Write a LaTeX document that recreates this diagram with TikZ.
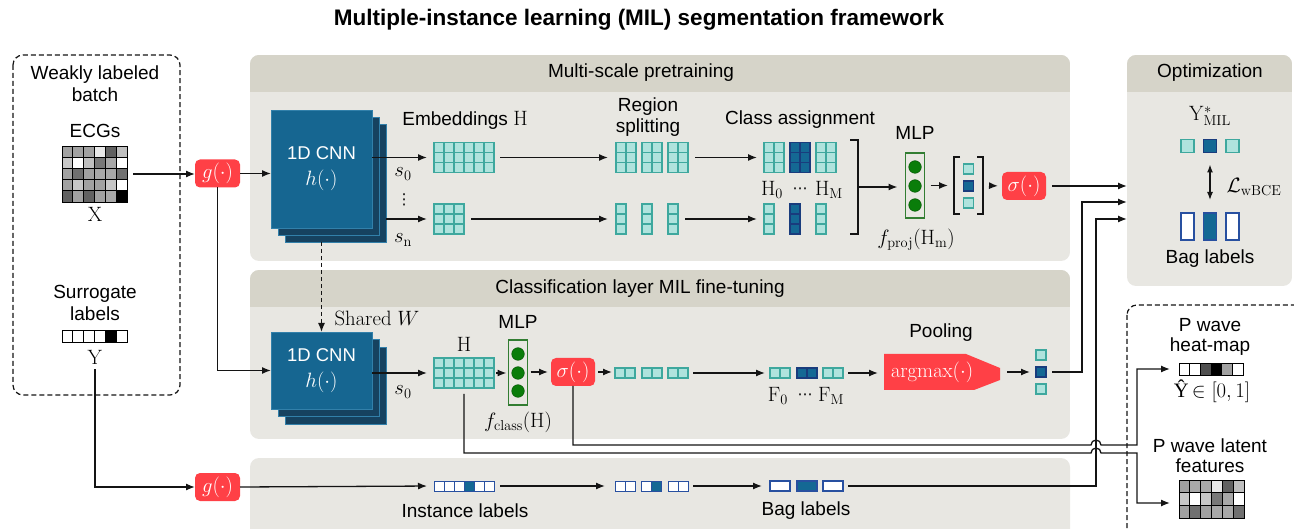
\documentclass[tikz,border=0pt]{standalone}
\usepackage[no-math]{fontspec}
\setmainfont{Liberation Sans}
\newfontfamily\dejavu{DejaVu Sans}
\newfontfamily\serifL{Liberation Serif}
\usetikzlibrary{arrows.meta}
\definecolor{pbody}{RGB}{232,231,226}
\definecolor{phead}{RGB}{214,212,201}
\definecolor{redb}{RGB}{255,64,70}
\definecolor{tealL}{RGB}{175,227,221}
\definecolor{tealD}{RGB}{62,168,158}
\definecolor{dkb}{RGB}{20,104,148}
\definecolor{dkbB}{RGB}{25,60,125}
\definecolor{blueB}{RGB}{40,80,160}
\definecolor{cnnF}{RGB}{22,102,145}
\definecolor{cnnB}{RGB}{22,66,96}
\definecolor{cnnE}{RGB}{50,128,170}
\definecolor{grn}{RGB}{10,125,10}
\definecolor{grnB}{RGB}{50,125,50}
\definecolor{lnc}{RGB}{20,20,20}
\newcommand\M[1]{{\fontsize{20.74}{24}\selectfont$#1$}}
% teal/dark grid: name, cx, cy, cols, rows, w, h, fill, draw
\newcommand\mkgrid[9]{%
  \node[gridnode,minimum width=#6pt,minimum height=#7pt] (#1) at (#2,#3) {};
  \filldraw[fill=#8,draw=#9,line width=1.1pt] ({#2-#6/2},{#3-#7/2}) rectangle ({#2+#6/2},{#3+#7/2});
  \foreach \ii in {1,...,#4}{\ifnum\ii<#4\relax\draw[draw=#9,line width=1.1pt] ({#2-#6/2+\ii*#6/#4},{#3-#7/2}) -- ++(0,#7);\fi}
  \foreach \jj in {1,...,#5}{\ifnum\jj<#5\relax\draw[draw=#9,line width=1.1pt] ({#2-#6/2},{#3-#7/2+\jj*#7/#5}) -- ++(#6,0);\fi}
}
% coloured cells: left, top, cw, ch, draw, rows
\newcommand\mkcells[6]{%
  \foreach \rr [count=\jj from 0] in {#6}{%
    \foreach \vv [count=\ii from 0] in \rr {%
      \filldraw[fill=\vv,draw=#5,line width=0.9pt] ({#1+\ii*#3},{#2+\jj*#4}) rectangle ++(#3,#4);
    }}}
\begin{document}
\begin{tikzpicture}[x=1pt,y=-1pt,
  font=\fontsize{19}{22}\selectfont,
  arr/.style={draw=lnc,line width=1.3pt,-{Latex[length=9pt,width=7pt]}},
  ln/.style={draw=lnc,line width=1.3pt},
  gridnode/.style={inner sep=0pt,outer sep=0pt,draw=none},
  redbox/.style={fill=redb,rounded corners=5pt,text=white,inner sep=0pt,outer sep=0pt},
  lbl/.style={inner sep=0pt,align=center},
  cnnf/.style={fill=cnnF,draw=cnnE,line width=0.8pt,inner sep=0pt,outer sep=0pt,minimum width=101pt,text=white,align=center,font=\fontsize{18.5}{26}\selectfont},
  cnnb/.style={fill=cnnB,draw=cnnE,line width=0.8pt,inner sep=0pt,outer sep=0pt,minimum width=101pt},
  mlpbox/.style={draw=grnB,line width=1.3pt,inner sep=0pt,outer sep=0pt,minimum width=19pt,minimum height=65pt},
  dot/.style={fill=grn,draw=grn!70!black,line width=0.5pt},
  dashbox/.style={draw=lnc,line width=1.2pt,dash pattern=on 5pt off 3pt,rounded corners=10pt},
  tcell/.style={fill=tealL,draw=tealD,line width=1.1pt},
  dcell/.style={fill=dkb,draw=dkbB,line width=1.1pt},
  wcell/.style={fill=white,draw=blueB,line width=1.3pt},
  bcell/.style={fill=dkb,draw=blueB,line width=1.3pt},
  dts/.style={inner sep=0pt,font=\dejavu\fontsize{15}{16}\selectfont}
]
\useasboundingbox (0,0) rectangle (1294,529);
\node[font=\fontsize{22.5}{26}\selectfont\bfseries] (title) at (639,20) {Multiple-instance learning (MIL) segmentation framework};

% ---------- panels ----------
\begin{scope}
  \clip[rounded corners=9pt] (250,55) rectangle (1070,261);
  \fill[pbody] (250,55) rectangle (1070,261);
  \fill[phead] (250,55) rectangle (1070,92);
\end{scope}
\begin{scope}
  \clip[rounded corners=9pt] (250,270) rectangle (1070,439);
  \fill[pbody] (250,270) rectangle (1070,439);
  \fill[phead] (250,270) rectangle (1070,307);
\end{scope}
\fill[pbody,rounded corners=9pt] (250,458) rectangle (1070,560);
\begin{scope}
  \clip[rounded corners=9pt] (1127,55) rectangle (1292,286);
  \fill[pbody] (1127,55) rectangle (1292,286);
  \fill[phead] (1127,55) rectangle (1292,92);
\end{scope}
\draw[dashbox] (13,55) rectangle (180,395);
\draw[dashbox] (1127,305) rectangle (1330,570);

\node[lbl] (hdr1) at (641,73) {Multi-scale pretraining};
\node[lbl] (hdr2) at (640,289) {Classification layer MIL fine-tuning};
\node[lbl] (hdr3) at (1210,73) {Optimization};

% ---------- left box ----------
\node[lbl] (wlb) at (95,84) {Weakly labeled\\batch};
\node[lbl] (ecgt) at (95,131) {ECGs};
\node[gridnode,minimum width=65pt,minimum height=56pt] (ecg) at (94.5,174) {};
\mkcells{62}{146}{10.83}{11.2}{black}{{black!37,black!37,black!37,black!9,black!62,black!25},{black!22,white,black!25,black!53,black!34,white},{black!37,black!56,black!37,black!34,black!34,black!56},{black!37,black!22,black!37,black!37,black!22,white},{black!62,black!37,black!62,black!37,black!34,black}}
\node[lbl] (xl) at (95,214) {\M{\mathrm{X}}};
\node[lbl] (sgl) at (95,303) {Surrogate\\labels};
\node[gridnode,minimum width=65pt,minimum height=12pt] (yl) at (94.5,336) {};
\mkcells{62}{330}{10.83}{12}{black}{{white,white,white,white,black,white}}
\node[lbl] (ylab) at (95,357) {\M{\mathrm{Y}}};

% ---------- g boxes ----------
\node[redbox,minimum width=45pt,minimum height=28pt] (g1) at (217.5,173.5) {\M{g(\cdot)}};
\node[redbox,minimum width=45pt,minimum height=28pt] (g2) at (217.5,487) {\M{g(\cdot)}};

% ---------- top CNN ----------
\node[cnnb,minimum height=118pt] (cnn1c) at (335.5,183) {};
\node[cnnb,minimum height=118pt] (cnn1b) at (328.5,176) {};
\node[cnnf,minimum height=118pt] (cnn1) at (321.5,169) {1D CNN\\\M{h(\cdot)}};
% ---------- bottom CNN ----------
\node[cnnb,minimum height=77pt] (cnn2c) at (335.5,385.5) {};
\node[cnnb,minimum height=77pt] (cnn2b) at (328.5,378) {};
\node[cnnf,minimum height=77pt] (cnn2) at (321.5,370.5) {1D CNN\\\M{h(\cdot)}};

% ---------- top row ----------
\node[lbl] (embl) at (465,120) {Embeddings \M{\mathrm{H}}};
\mkgrid{embT}{464}{157.5}{6}{3}{60}{30}{tealL}{tealD}
\mkgrid{embB}{449}{219}{3}{3}{30}{30}{tealL}{tealD}
\node[lbl] (s0a) at (403,174) {\M{s_0}};
\node[dts] (vdt) at (404,200) {⋮};
\node[lbl] (sna) at (403,240) {\M{s_{\mathrm{n}}}};

\node[lbl,font=\fontsize{19}{21}\selectfont] (rsl) at (648,117) {Region\\splitting};
\node[gridnode,minimum width=72pt,minimum height=30pt] (rsT) at (652,157.5) {};
\mkgrid{rsT1}{626}{157.5}{2}{3}{20}{30}{tealL}{tealD}
\mkgrid{rsT2}{652}{157.5}{2}{3}{20}{30}{tealL}{tealD}
\mkgrid{rsT3}{678}{157.5}{2}{3}{20}{30}{tealL}{tealD}
\node[gridnode,minimum width=62pt,minimum height=30pt] (rsB) at (647,219) {};
\mkgrid{rsB1}{621}{219}{1}{3}{10}{30}{tealL}{tealD}
\mkgrid{rsB2}{647}{219}{1}{3}{10}{30}{tealL}{tealD}
\mkgrid{rsB3}{673}{219}{1}{3}{10}{30}{tealL}{tealD}

\node[lbl] (cal) at (800,120) {Class assignment};
\node[gridnode,minimum width=72pt,minimum height=30pt] (caT) at (800,157.5) {};
\mkgrid{caT1}{774}{157.5}{2}{3}{20}{30}{tealL}{tealD}
\mkgrid{caT2}{800}{157.5}{2}{3}{20}{30}{dkb}{dkbB}
\mkgrid{caT3}{826}{157.5}{2}{3}{20}{30}{tealL}{tealD}
\node[gridnode,minimum width=62pt,minimum height=30pt] (caB) at (795,219) {};
\mkgrid{caB1}{769}{219}{1}{3}{10}{30}{tealL}{tealD}
\mkgrid{caB2}{795}{219}{1}{3}{10}{30}{dkb}{dkbB}
\mkgrid{caB3}{821}{219}{1}{3}{10}{30}{tealL}{tealD}
\node[lbl] (h0) at (772,190) {\M{\mathrm{H}_0}};
\node[dts] (hdots) at (800,191) {⋯};
\node[lbl] (hm1) at (829,190) {\M{\mathrm{H}_{\mathrm{M}}}};
\draw[ln] (850,140) -- (858,140) -- (858,234) -- (850,234);
\coordinate (brk) at (858,187);

\node[lbl] (mlpl1) at (915,133) {MLP};
\node[mlpbox] (mlp1) at (915,185.5) {};
\foreach \yy in {167,186,205} \filldraw[dot] (915,\yy) circle[radius=6.3pt];
\node[lbl] (fproj) at (916,240) {\M{f_{\mathrm{proj}}(\mathrm{H}_{\mathrm{m}})}};

\node[gridnode,minimum width=29pt,minimum height=57pt] (vec1) at (968.5,185.5) {};
\draw[ln] (960,157) -- (954,157) -- (954,214) -- (960,214);
\draw[ln] (977,157) -- (983,157) -- (983,214) -- (977,214);
\draw[tcell] (963.5,164) rectangle ++(10,10);
\draw[dcell] (963.5,181) rectangle ++(10,10);
\draw[tcell] (963.5,198) rectangle ++(10,10);

\node[redbox,minimum width=44pt,minimum height=28pt] (sig1) at (1024,186) {\M{\sigma(\cdot)}};

% ---------- middle row ----------
\node[lbl] (shw) at (377,318) {\M{\mathrm{Shared}\;W}};
\node[lbl] (s0b) at (403,392) {\M{s_0}};
\node[lbl] (hl2) at (464,344) {\M{\mathrm{H}}};
\mkgrid{H2}{464}{373}{6}{3}{60}{30}{tealL}{tealD}
\node[lbl] (mlpl2) at (518,322) {MLP};
\node[mlpbox] (mlp2) at (518,372.5) {};
\foreach \yy in {354,373,391} \filldraw[dot] (518,\yy) circle[radius=6.3pt];
\node[lbl] (fcls) at (518,422) {\M{f_{\mathrm{class}}(\mathrm{H})}};
\node[redbox,minimum width=44pt,minimum height=28pt] (sig2) at (573,372) {\M{\sigma(\cdot)}};

\node[gridnode,minimum width=73pt,minimum height=10pt] (fT) at (651.5,373) {};
\mkgrid{fT1}{625}{373}{2}{1}{20}{10}{tealL}{tealD}
\mkgrid{fT2}{652}{373}{2}{1}{20}{10}{tealL}{tealD}
\mkgrid{fT3}{678}{373}{2}{1}{20}{10}{tealL}{tealD}
\node[gridnode,minimum width=73pt,minimum height=10pt] (fB) at (806.5,373) {};
\mkgrid{fB1}{780}{373}{2}{1}{20}{10}{tealL}{tealD}
\mkgrid{fB2}{807}{373}{2}{1}{20}{10}{dkb}{dkbB}
\mkgrid{fB3}{833}{373}{2}{1}{20}{10}{tealL}{tealD}
\node[lbl] (f0) at (778,396) {\M{\mathrm{F}_0}};
\node[dts] (fdots) at (805,397) {⋯};
\node[lbl] (fm) at (831,396) {\M{\mathrm{F}_{\mathrm{M}}}};

\node[lbl] (pooll) at (941,333) {Pooling};
\fill[redb] (884,354) -- (966,354) -- (1000,368) -- (1000,380) -- (974,390) -- (884,390) -- cycle;
\node[gridnode,minimum width=116pt,minimum height=36pt] (pool) at (942,372) {};
\node[lbl,text=white] (poolt) at (932,372) {\M{\mathrm{argmax}(\cdot)}};

\node[gridnode,minimum width=10pt,minimum height=45pt] (pv) at (1041,372) {};
\draw[tcell] (1036,350) rectangle ++(10,10);
\draw[dcell] (1036,367) rectangle ++(10,10);
\draw[tcell] (1036,384) rectangle ++(10,10);

% ---------- bottom row ----------
\node[gridnode,minimum width=60pt,minimum height=10pt] (il) at (464,486) {};
\mkcells{434}{481}{10}{10}{blueB}{{white,white,white,dkb,white,white}}
\node[lbl] (ill) at (465,511) {Instance labels};
\node[gridnode,minimum width=73pt,minimum height=10pt] (il2) at (651.5,486) {};
\mkcells{615}{481}{10}{10}{blueB}{{white,white}}
\mkcells{641}{481}{10}{10}{blueB}{{white,dkb}}
\mkcells{668}{481}{10}{10}{blueB}{{white,white}}
\node[gridnode,minimum width=73pt,minimum height=10pt] (bl) at (806.5,486) {};
\draw[wcell] (770,481) rectangle ++(20,10);
\draw[bcell] (797,481) rectangle ++(20,10);
\draw[wcell] (823,481) rectangle ++(20,10);
\node[lbl] (bll) at (806,511) {Bag labels};

% ---------- optimization ----------
\node[lbl] (ystar) at (1210,116) {\M{\mathrm{Y}^{*}_{\mathrm{MIL}}}};
\node[gridnode,minimum width=59pt,minimum height=13pt] (ys) at (1210,146) {};
\draw[tcell,line width=1.2pt] (1181,139.5) rectangle ++(13,13);
\draw[dcell,line width=1.2pt] (1203.5,139.5) rectangle ++(13,13);
\draw[tcell,line width=1.2pt] (1226,139.5) rectangle ++(13,13);
\node[gridnode,minimum width=60pt,minimum height=27pt] (bgl) at (1210,226.5) {};
\draw[wcell] (1181,213) rectangle ++(13,27);
\draw[bcell] (1203.5,213) rectangle ++(13,27);
\draw[wcell] (1226,213) rectangle ++(13,27);
\node[lbl] (lw) at (1254,187) {\M{\mathcal{L}_{\mathrm{wBCE}}}};
\node[lbl] (bgll) at (1210,259) {Bag labels};
\draw[ln,{Latex[length=8pt,width=6pt]}-{Latex[length=8pt,width=6pt]},shorten <=12pt,shorten >=13pt] (ys.south) -- (bgl.north);
\coordinate (optin1) at (1127,186);
\coordinate (optin2) at (1127,202);
\coordinate (optin3) at (1127,219);

% ---------- right outputs ----------
\node[lbl,font=\fontsize{19}{20}\selectfont] (hml) at (1210,337) {P wave\\heat-map};
\node[gridnode,minimum width=64pt,minimum height=12pt] (hm) at (1211,369) {};
\mkcells{1179}{363}{10.7}{12}{black}{{white,white,black!69,black,black!37,white}}
\node[lbl] (yhat) at (1212,391) {{\serifL\fontsize{20.5}{24}\selectfont Ŷ}\,\M{\in[0,1]}};
\node[lbl,font=\fontsize{19}{20}\selectfont] (latl) at (1210,456) {P wave latent\\features};
\node[gridnode,minimum width=65pt,minimum height=38pt] (lat) at (1211.5,499) {};
\mkcells{1179}{480}{10.83}{12.7}{black}{{black!37,black!34,black!34,black!9,black!62,black!25},{black!22,white,black!22,black!53,black!34,white},{black!37,black!56,black!37,black!34,black!34,black!56}}

% ---------- connectors ----------
\draw[arr,shorten <=6pt] (ecg.east) -- (ecg.east -| g1.west);
\draw[arr] (g1.east) -- (g1.east -| cnn1.west);
\draw[arr] (g1.south) |- (cnn2.west);
\draw[arr,shorten <=5pt] (ylab.south) |- (g2.west);
\draw[arr,shorten >=7pt] (embT.west -| cnn1.east) -- (embT.west);
\draw[arr,shorten >=7pt] (embB.west -| cnn1c.east) -- (embB.west);
\draw[arr,shorten <=6pt,shorten >=8pt] (embT.east) -- (rsT.west);
\draw[arr,shorten <=7pt,shorten >=8pt] (embB.east) -- (rsB.west);
\draw[arr,shorten <=7pt,shorten >=7pt] (rsT.east) -- (caT.west);
\draw[arr,shorten <=7pt,shorten >=7pt] (rsB.east) -- (caB.west);
\draw[arr,shorten >=8pt] (brk) -- (brk -| mlp1.west);
\draw[arr,shorten <=6pt,shorten >=6pt] (mlp1.east) -- (vec1.west);
\draw[arr,shorten <=7pt,shorten >=4pt] (vec1.east) -- (sig1.west);
\draw[arr,shorten <=6pt] (sig1.east) -- (optin1);
\draw[arr,dashed,dash pattern=on 4pt off 3pt] (cnn2.north |- cnn1c.south) -- (cnn2.north);
\draw[arr,shorten >=7pt] (H2.west -| cnn2.east) -- (H2.west);
\draw[arr,shorten <=2pt,shorten >=2pt] (H2.east) -- (mlp2.west |- H2.east);
\draw[arr,shorten <=3pt,shorten >=3pt] (mlp2.east |- sig2.west) -- (sig2.west);
\draw[arr,shorten <=3pt,shorten >=3pt] (sig2.east) -- (sig2.east -| fT.west);
\draw[arr,shorten <=5pt,shorten >=5pt] (fT.east) -- (fB.west);
\draw[arr,shorten <=5pt,shorten >=6pt] (fB.east) -- (pool.west |- fB.east);
\draw[arr,shorten <=7pt,shorten >=6pt] (pool.east) -- (pv.west);
\coordinate (j1) at (1082,372);
\draw[arr,shorten <=6pt] (pv.east) -- (j1) |- (optin2);
\draw[arr,shorten >=7pt] (g2.east) -- (il.west);
\draw[arr,shorten <=6pt,shorten >=10pt] (il.east) -- (il2.west);
\draw[arr,shorten <=5pt,shorten >=8pt] (il2.east) -- (bl.west);
\coordinate (j2) at (1096,486);
\draw[arr,shorten <=5pt] (bl.east) -- (j2) |- (optin3);
\coordinate (hopA) at (1091,445);
\coordinate (hopB) at (1091,453);
\draw[arr,shorten >=9pt] (sig2.south) |- (hopA) arc[start angle=180,end angle=0,radius=5pt] -- ++(36pt,0pt) |- (hm.west);
\draw[arr,shorten >=9pt,shorten <=6pt] (H2.south) |- (hopB) arc[start angle=180,end angle=0,radius=5pt] -- ++(36pt,0pt) |- ([yshift=-4pt]lat.west);
\end{tikzpicture}
\end{document}
